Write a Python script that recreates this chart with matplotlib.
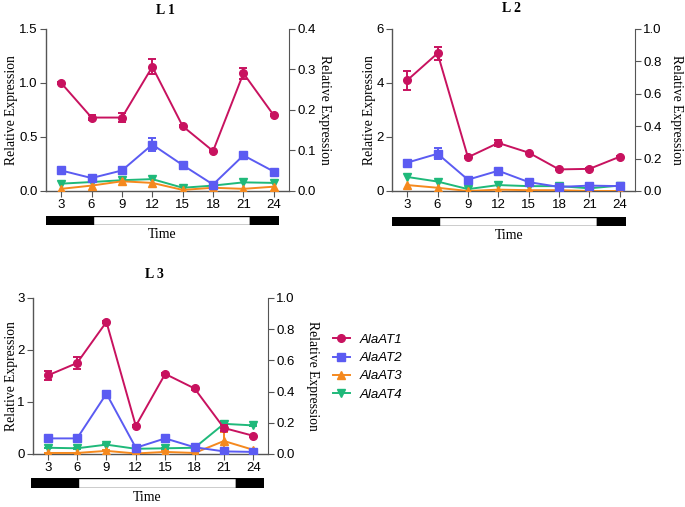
import numpy as np
import matplotlib.pyplot as plt
from matplotlib.lines import Line2D
from matplotlib.patches import Rectangle

# ---------------------------------------------------------------------------
# Data
# ---------------------------------------------------------------------------
hours = [3, 6, 9, 12, 15, 18, 21, 24]
genes = ["AlaAT1", "AlaAT2", "AlaAT3", "AlaAT4"]

l1_at1 = [1.00, 0.68, 0.68, 1.15, 0.60, 0.37, 1.09, 0.70]
l1_at1_err = [0.01, 0.02, 0.04, 0.07, 0.01, 0.01, 0.05, 0.01]
l1_at2 = [0.19, 0.12, 0.19, 0.43, 0.24, 0.06, 0.33, 0.18]
l1_at2_err = [0.01, 0.01, 0.01, 0.06, 0.01, 0.01, 0.01, 0.01]
l1_at3 = [0.02, 0.05, 0.09, 0.075, 0.01, 0.03, 0.02, 0.04]
l1_at4 = [0.068, 0.083, 0.10, 0.11, 0.03, 0.05, 0.08, 0.075]

l2_at1 = [4.10, 5.10, 1.25, 1.78, 1.42, 0.80, 0.82, 1.27]
l2_at1_err = [0.35, 0.25, 0.03, 0.12, 0.03, 0.03, 0.03, 0.03]
l2_at2 = [1.05, 1.38, 0.42, 0.75, 0.33, 0.15, 0.20, 0.18]
l2_at2_err = [0.03, 0.20, 0.03, 0.05, 0.03, 0.02, 0.02, 0.02]
l2_at3 = [0.22, 0.12, 0.00, 0.05, 0.03, 0.03, 0.00, 0.00]
l2_at4 = [0.52, 0.35, 0.07, 0.22, 0.18, 0.18, 0.10, 0.20]

l3_at1 = [1.51, 1.75, 2.54, 0.54, 1.54, 1.26, 0.50, 0.35]
l3_at1_err = [0.08, 0.12, 0.02, 0.02, 0.02, 0.02, 0.05, 0.02]
l3_at2 = [0.30, 0.30, 1.16, 0.12, 0.30, 0.13, 0.05, 0.04]
l3_at2_err = [0.01, 0.01, 0.03, 0.01, 0.01, 0.01, 0.01, 0.01]
l3_at3 = [0.02, 0.02, 0.06, 0.01, 0.04, 0.02, 0.25, 0.08]
l3_at3_err = [0.005, 0.005, 0.01, 0.005, 0.01, 0.005, 0.17, 0.02]
l3_at4 = [0.12, 0.11, 0.18, 0.10, 0.11, 0.12, 0.58, 0.55]
l3_at4_err = [0.005, 0.005, 0.01, 0.005, 0.01, 0.01, 0.05, 0.01]

colors = ["#C8125F", "#5B5BF2", "#F5891E", "#1FB97A"]
markers = ["o", "s", "^", "v"]

SERIF = "Liberation Serif"
SANS = "Liberation Sans"
W, H = 685, 507


def panel(fig, rect, bar_rect, title, title_xy, ylab_x, left_max, left_ticks,
          right_max, right_ticks, series, errs, bar_span):
    ax = fig.add_axes(rect)
    for i, (vals, err) in enumerate(zip(series, errs)):
        ax.errorbar(hours, vals, yerr=err, color=colors[i], marker=markers[i],
                    markersize=5.5, lw=1.4, capsize=3, capthick=1.4,
                    elinewidth=1.4, zorder=3 + (3 - i))
    ax.set_xlim(1.5, 25.5)
    ax.set_ylim(0, left_max)
    ax.set_xticks(hours)
    ax.set_yticks(left_ticks)
    ax.set_yticklabels([f"{t:g}" if left_max > 2 else f"{t:.1f}" for t in left_ticks])
    for s in ("top", "right"):
        ax.spines[s].set_visible(False)
    for s in ("left", "bottom"):
        ax.spines[s].set_color("#555555")
        ax.spines[s].set_linewidth(1.0)
    ax.tick_params(direction="out", length=4, color="#555555", labelsize=9.5,
                   pad=2)
    for lab in ax.get_xticklabels() + ax.get_yticklabels():
        lab.set_fontfamily(SANS)
    ax.set_ylabel("Relative Expression", fontfamily=SERIF, fontsize=9.8)
    ax.yaxis.set_label_coords(ylab_x[0], 0.5)
    fig.text(title_xy[0] / W, 1 - title_xy[1] / H, title, ha="center",
             va="center", fontfamily=SERIF, fontweight="bold", fontsize=10)

    ax2 = ax.twinx()
    ax2.set_ylim(0, right_max)
    ax2.set_yticks(right_ticks)
    ax2.set_yticklabels([f"{t:.1f}" for t in right_ticks])
    for s in ("top", "left", "bottom"):
        ax2.spines[s].set_visible(False)
    ax2.spines["right"].set_color("#555555")
    ax2.tick_params(direction="out", length=4, color="#555555", labelsize=9.5,
                    pad=2)
    for lab in ax2.get_yticklabels():
        lab.set_fontfamily(SANS)
    ax2.set_ylabel("Relative Expression", fontfamily=SERIF, fontsize=9.8,
                   rotation=270, va="center")
    ax2.yaxis.set_label_coords(ylab_x[1], 0.5)

    # light/dark bar
    bx = fig.add_axes(bar_rect)
    x0, d1, d2, x1 = bar_span
    bx.set_xlim(x0, x1)
    bx.set_ylim(0, 1)
    bx.add_patch(Rectangle((x0, 0), d1 - x0, 1, facecolor="black",
                           edgecolor="black", lw=1))
    bx.add_patch(Rectangle((d1, 0), d2 - d1, 1, facecolor="white",
                           edgecolor="black", lw=1))
    bx.add_patch(Rectangle((d2, 0), x1 - d2, 1, facecolor="black",
                           edgecolor="black", lw=1))
    bx.axis("off")
    bx.text(0.5, -0.3, "Time", transform=bx.transAxes, ha="center", va="top",
            fontfamily=SERIF, fontsize=10)
    return ax


fig = plt.figure(figsize=(W / 100, H / 100), dpi=100)


def r(x0, y0, x1, y1):
    return [x0 / W, 1 - y1 / H, (x1 - x0) / W, (y1 - y0) / H]


def lx(x0, x1, left_px, right_px):
    # label anchor in pixels -> axes fraction
    return ((left_px - x0) / (x1 - x0), (right_px - x0) / (x1 - x0))


panel(fig, r(46, 29, 289, 191), r(46, 216, 279, 225), "L 1", (165, 10),
      lx(46, 289, 18, 325),
      1.5, [0.0, 0.5, 1.0, 1.5], 0.4, [0.0, 0.1, 0.2, 0.3, 0.4],
      [l1_at1, l1_at2, l1_at3, l1_at4],
      [l1_at1_err, l1_at2_err, None, None], (1.5, 6.1, 21.6, 24.5))

panel(fig, r(392, 29, 635, 191), r(392, 217, 626, 226), "L 2", (512, 8),
      lx(392, 635, 376, 677),
      6, [0, 2, 4, 6], 1.0, [0.0, 0.2, 0.4, 0.6, 0.8, 1.0],
      [l2_at1, l2_at2, l2_at3, l2_at4],
      [l2_at1_err, l2_at2_err, None, None], (1.4, 6.1, 21.8, 24.7))

panel(fig, r(33, 298, 268, 454), r(31, 478, 264, 488), "L 3", (154, 275),
      lx(33, 268, 18, 312),
      3, [0, 1, 2, 3], 1.0, [0.0, 0.2, 0.4, 0.6, 0.8, 1.0],
      [l3_at1, l3_at2, l3_at3, l3_at4],
      [l3_at1_err, l3_at2_err, l3_at3_err, l3_at4_err], (1.3, 6.1, 22.2, 25.1))

handles = [Line2D([], [], color=c, marker=m, markersize=5.5, lw=1.4)
           for c, m in zip(colors, markers)]
leg = fig.legend(handles, genes, loc="upper left",
                 bbox_to_anchor=(321 / W, 1 - 322 / H), frameon=False,
                 prop={"family": SANS, "style": "italic", "size": 9.5},
                 handlelength=1.3, labelspacing=0.45, handletextpad=0.7)

fig.savefig("out.png", dpi=100)
